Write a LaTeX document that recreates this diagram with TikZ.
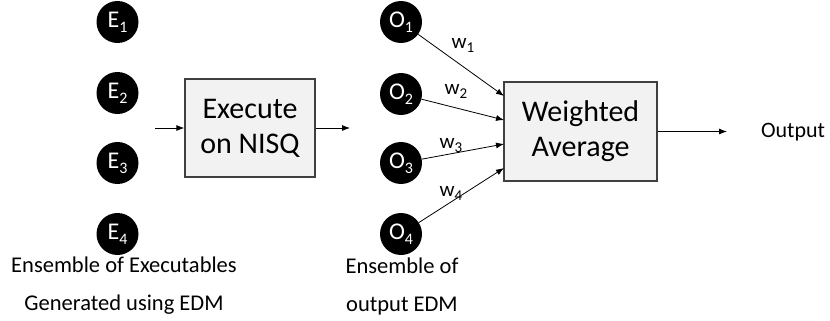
\documentclass[tikz,border=0pt]{standalone}
\usepackage{fontspec}
\setmainfont{Carlito}
\usetikzlibrary{arrows.meta}
\newcommand\subx[1]{\raisebox{-0.45ex}{\fontsize{16}{16}\selectfont #1}}
\newcommand\subw[1]{\raisebox{-0.4ex}{\fontsize{15}{15}\selectfont #1}}
\definecolor{boxfill}{HTML}{F2F2F2}
\definecolor{boxline}{HTML}{404040}
\tikzset{
  ens/.style={circle, fill=black, text=white, minimum size=42pt, inner sep=0pt,
    font=\fontsize{24}{26}\selectfont},
  procbox/.style={draw=boxline, fill=boxfill, line width=1.3pt, inner sep=0pt,
    align=center, font=\fontsize{30}{35}\selectfont},
  conn/.style={line width=0.8pt, -{Latex[length=8pt,width=6pt]}},
  wlab/.style={font=\fontsize{21}{22}\selectfont, inner sep=0pt},
  caption/.style={align=center, font=\fontsize{22.5}{38}\selectfont, inner sep=0pt},
}
\begin{document}
\begin{tikzpicture}[x=1pt,y=-1pt]
\useasboundingbox (0,0) rectangle (830,321);
% executables
\node[ens] (e1) at (117.5,22) {E\subx{1}};
\node[ens] (e2) at (117.5,93) {E\subx{2}};
\node[ens] (e3) at (117.5,163) {E\subx{3}};
\node[ens] (e4) at (117.5,234) {E\subx{4}};
% execute box
\node[procbox, minimum width=130pt, minimum height=98pt] (exec) at (250,128) {Execute\\on NISQ};
\coordinate (inS) at (155,128);
\coordinate (outE) at (350,128);
\draw[conn] (inS) -- (exec.west);
\draw[conn] (exec.east) -- (outE);
% outputs
\node[ens] (o1) at (401,22) {O\subx{1}};
\node[ens] (o2) at (401,94) {O\subx{2}};
\node[ens] (o3) at (401,163) {O\subx{3}};
\node[ens] (o4) at (401,234) {O\subx{4}};
% weighted average
\node[procbox, minimum width=153pt, minimum height=99pt] (wavg) at (580.5,131.5) {Weighted\\Average};
\coordinate (t1) at (504,96);
\coordinate (t2) at (504,120);
\coordinate (t3) at (504,144);
\coordinate (t4) at (504,168);
\draw[conn] (o1) -- (t1);
\draw[conn] (o2) -- (t2);
\draw[conn] (o3) -- (t3);
\draw[conn] (o4) -- (t4);
\node[wlab] (w1) at (463,45) {w\subw{1}};
\node[wlab] (w2) at (456,91) {w\subw{2}};
\node[wlab] (w3) at (451,146) {w\subw{3}};
\node[wlab] (w4) at (451,193) {w\subw{4}};
% output
\coordinate (outT) at (727,131.5);
\draw[conn] (wavg.east) -- (outT);
\node[font=\fontsize{22}{24}\selectfont, inner sep=0pt] (out) at (793,132) {Output};
% captions
\node[caption] (c1) at (124,286) {Ensemble of Executables\\Generated using EDM};
\node[caption] (c2) at (402,286) {Ensemble of\\output EDM};
\end{tikzpicture}
\end{document}
